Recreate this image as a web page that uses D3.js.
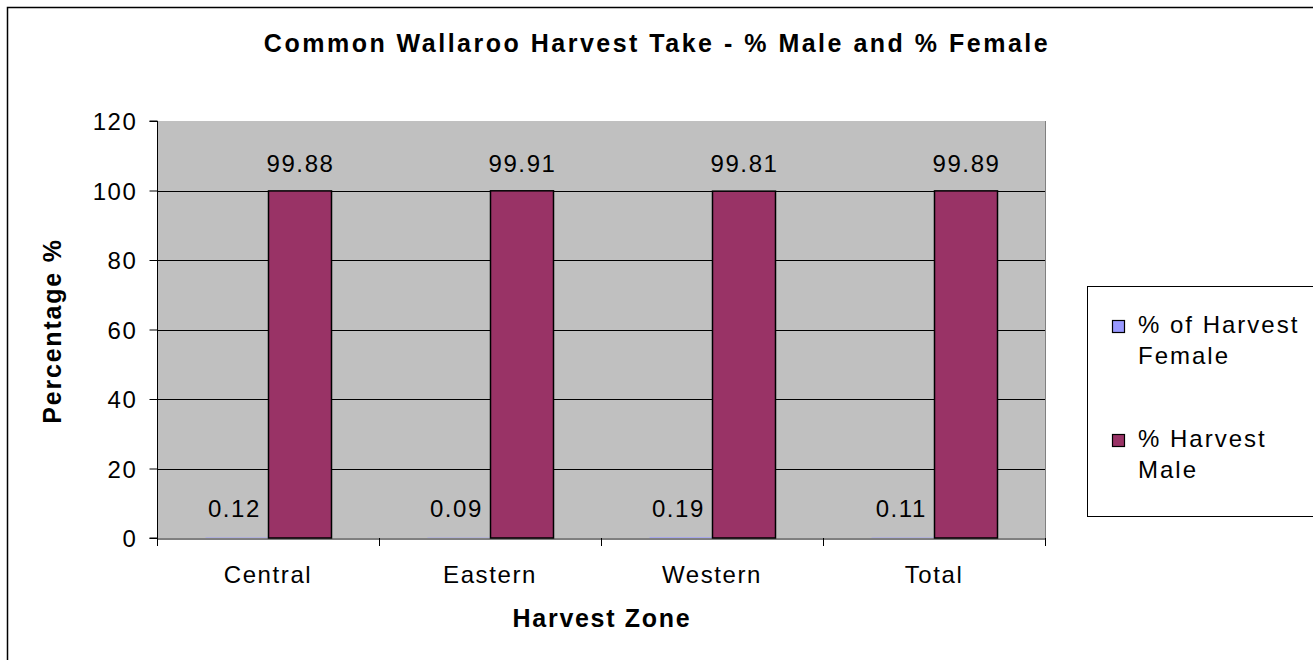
<!DOCTYPE html>
<html><head><meta charset="utf-8">
<script src="https://cdn.jsdelivr.net/npm/d3@7"></script>
<style>body{margin:0;background:#fff;} text{font-family:"Liberation Sans",Arial,sans-serif;}</style>
</head><body><svg id="c" width="1313" height="660"></svg>
<script>
const categories = ["Central","Eastern","Western","Total"];
const seriesNames = ["% of Harvest Female","% Harvest Male"];
const femaleValues = [0.12,0.09,0.19,0.11];
const maleValues = [99.88,99.91,99.81,99.89];
const femaleLabels = ["0.12","0.09","0.19","0.11"];
const maleLabels = ["99.88","99.91","99.81","99.89"];
const yTicks = [0,20,40,60,80,100,120];
const colors = ["#9999FF","#993366"];

const svg = d3.select("#c");
svg.append("rect").attr("x",7.5).attr("y",7.5).attr("width",1320).attr("height",670)
  .attr("fill","#fff").attr("stroke","#000").attr("stroke-width",1.5);

const L=157, R=1045, T=121, B=538;
const FS=24, LS=1.6;
const x = d3.scaleBand().domain(categories).range([L,R]).paddingInner(0).paddingOuter(0);
const y = d3.scaleLinear().domain([0,120]).range([B,T]);

svg.append("rect").attr("x",L).attr("y",T).attr("width",R-L).attr("height",B-T).attr("fill","#C0C0C0");
// gridlines
svg.append("g").selectAll("line").data(yTicks.slice(1,-1)).join("line")
  .attr("x1",L).attr("x2",R).attr("y1",d=>Math.round(y(d))+0.5).attr("y2",d=>Math.round(y(d))+0.5)
  .attr("stroke","#000").attr("stroke-width",1);
svg.append("line").attr("x1",R+0.5).attr("x2",R+0.5).attr("y1",T).attr("y2",B).attr("stroke","#808080");

const barW = 63;
const groups = svg.append("g");
categories.forEach((c,i)=>{
  const cx = x(c)+x.bandwidth()/2;
  const vals=[femaleValues[i],maleValues[i]];
  vals.forEach((v,j)=>{
    const bx = j===0? cx-barW : cx;
    groups.append("rect").attr("x",bx+0.5).attr("y",y(v)).attr("width",barW).attr("height",B-y(v))
      .attr("fill",colors[j]).attr("stroke",j===0?"none":"#000").attr("stroke-width",1.5);
  });
  groups.append("text").attr("x",cx-7).attr("y",517).attr("text-anchor","end")
    .attr("font-size",FS).attr("letter-spacing",LS).attr("fill","#000").text(femaleLabels[i]);
  groups.append("text").attr("x",cx+barW/2+1).attr("y",y(maleValues[i])-19).attr("text-anchor","middle")
    .attr("font-size",FS).attr("letter-spacing",LS).attr("fill","#000").text(maleLabels[i]);
});

// y axis
const yAxis = d3.axisLeft(y).tickValues(yTicks).tickSize(8).tickPadding(12);
const gy = svg.append("g").attr("transform",`translate(${L+0.5},0)`).call(yAxis);
gy.select(".domain").attr("stroke","#000").attr("d",`M-8,${T}H0V${B}H-8`);
gy.selectAll(".tick line").attr("stroke","#000");
gy.selectAll(".tick text").attr("font-size",FS).attr("letter-spacing",LS).attr("fill","#000")
  .attr("font-family","Liberation Sans, Arial").attr("dy","0.36em");

// x axis
const xAxis = d3.axisBottom(x).tickSize(0).tickPadding(0);
const gx = svg.append("g").attr("transform",`translate(0,${B+0.5})`).call(xAxis);
gx.select(".domain").attr("stroke","#000");
gx.selectAll(".tick text").attr("font-size",FS).attr("letter-spacing",LS).attr("fill","#000")
  .attr("font-family","Liberation Sans, Arial").attr("y",44).attr("dy",0);
const xb = [L].concat(categories.map(c=>x(c)+x.bandwidth()));
svg.append("g").selectAll("line").data(xb).join("line")
  .attr("x1",d=>Math.round(d)+0.5).attr("x2",d=>Math.round(d)+0.5).attr("y1",B).attr("y2",B+8)
  .attr("stroke","#000");

// titles
svg.append("text").attr("x",657).attr("y",52).attr("text-anchor","middle").attr("font-size",25)
  .attr("font-weight","bold").attr("letter-spacing",2.5).text("Common Wallaroo Harvest Take - % Male and % Female");
svg.append("text").attr("x",602).attr("y",627).attr("text-anchor","middle").attr("font-size",25)
  .attr("font-weight","bold").attr("letter-spacing",1.7).text("Harvest Zone");
svg.append("text").attr("transform","translate(61,331) rotate(-90)").attr("text-anchor","middle").attr("font-size",25)
  .attr("font-weight","bold").attr("letter-spacing",1.8).text("Percentage %");

// legend
svg.append("rect").attr("x",1087.5).attr("y",286.5).attr("width",240).attr("height",230)
  .attr("fill","#fff").attr("stroke","#000").attr("stroke-width",1);
const legLines = [["% of Harvest","Female"],["% Harvest","Male"]];
legLines.forEach((ln,j)=>{
  const y0 = 333 + j*114;
  svg.append("rect").attr("x",1112.5).attr("y",y0-12.5).attr("width",12).attr("height",12)
    .attr("fill",colors[j]).attr("stroke","#000").attr("stroke-width",1.2);
  svg.append("text").attr("x",1138).attr("y",y0).attr("font-size",FS).attr("letter-spacing",2).text(ln[0]);
  svg.append("text").attr("x",1138).attr("y",y0+31).attr("font-size",FS).attr("letter-spacing",2).text(ln[1]);
});
</script></body></html>
